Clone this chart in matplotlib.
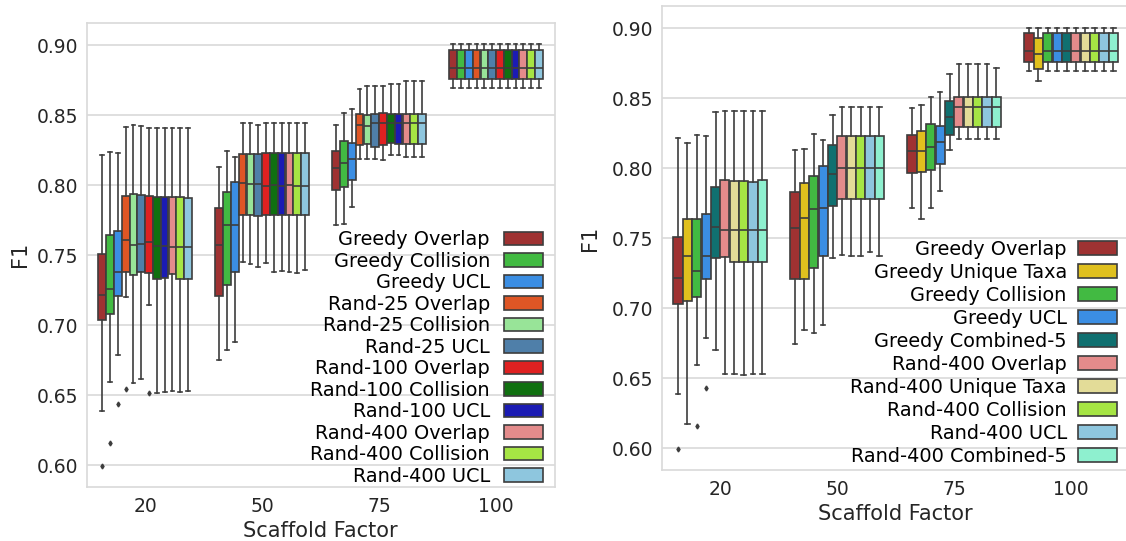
import matplotlib
matplotlib.use("Agg")
import matplotlib.pyplot as plt
from matplotlib.ticker import FormatStrFormatter

# Scaffold factor categories on the x axis
groups = ["20", "50", "75", "100"]

# ---------------- left panel: 12 methods ----------------
left_names = [
    "Greedy Overlap", "Greedy Collision", "Greedy UCL",
    "Rand-25 Overlap", "Rand-25 Collision", "Rand-25 UCL",
    "Rand-100 Overlap", "Rand-100 Collision", "Rand-100 UCL",
    "Rand-400 Overlap", "Rand-400 Collision", "Rand-400 UCL",
]
# box statistics: one row per method, one column per scaffold factor
left_whislo = [
    [0.6388, 0.6750, 0.7717, 0.8697],
    [0.6595, 0.6826, 0.7721, 0.8697],
    [0.6788, 0.6883, 0.7841, 0.8697],
    [0.7205, 0.7452, 0.8186, 0.8697],
    [0.6584, 0.7436, 0.8186, 0.8697],
    [0.6619, 0.7419, 0.8186, 0.8697],
    [0.7145, 0.7445, 0.8181, 0.8697],
    [0.6514, 0.7383, 0.8212, 0.8697],
    [0.6524, 0.7388, 0.8212, 0.8697],
    [0.6529, 0.7381, 0.8202, 0.8697],
    [0.6524, 0.7374, 0.8202, 0.8697],
    [0.6529, 0.7395, 0.8202, 0.8697],
]
left_q1 = [
    [0.7034, 0.7209, 0.7967, 0.8759],
    [0.7083, 0.7290, 0.7986, 0.8759],
    [0.7207, 0.7379, 0.8034, 0.8757],
    [0.7379, 0.7786, 0.8284, 0.8759],
    [0.7357, 0.7786, 0.8291, 0.8759],
    [0.7379, 0.7781, 0.8271, 0.8759],
    [0.7374, 0.7790, 0.8286, 0.8759],
    [0.7329, 0.7786, 0.8298, 0.8759],
    [0.7336, 0.7786, 0.8293, 0.8759],
    [0.7364, 0.7786, 0.8295, 0.8759],
    [0.7331, 0.7786, 0.8295, 0.8759],
    [0.7331, 0.7786, 0.8295, 0.8759],
]
left_med = [
    [0.7214, 0.7571, 0.8126, 0.8840],
    [0.7262, 0.7714, 0.8155, 0.8840],
    [0.7379, 0.7719, 0.8189, 0.8840],
    [0.7609, 0.8019, 0.8429, 0.8840],
    [0.7576, 0.8010, 0.8421, 0.8840],
    [0.7583, 0.8005, 0.8441, 0.8840],
    [0.7595, 0.7995, 0.8441, 0.8840],
    [0.7564, 0.8000, 0.8441, 0.8840],
    [0.7567, 0.7995, 0.8441, 0.8840],
    [0.7562, 0.8000, 0.8441, 0.8840],
    [0.7562, 0.7995, 0.8441, 0.8840],
    [0.7562, 0.7995, 0.8441, 0.8840],
]
left_q3 = [
    [0.7512, 0.7834, 0.8241, 0.8964],
    [0.7641, 0.7948, 0.8317, 0.8964],
    [0.7674, 0.8020, 0.8302, 0.8964],
    [0.7921, 0.8221, 0.8509, 0.8964],
    [0.7938, 0.8226, 0.8500, 0.8964],
    [0.7929, 0.8226, 0.8509, 0.8964],
    [0.7924, 0.8231, 0.8514, 0.8964],
    [0.7917, 0.8231, 0.8507, 0.8964],
    [0.7917, 0.8231, 0.8509, 0.8964],
    [0.7917, 0.8231, 0.8509, 0.8964],
    [0.7912, 0.8231, 0.8509, 0.8964],
    [0.7910, 0.8231, 0.8509, 0.8964],
]
left_whishi = [
    [0.8214, 0.8131, 0.8429, 0.9006],
    [0.8238, 0.8245, 0.8512, 0.9006],
    [0.8231, 0.8198, 0.8543, 0.9006],
    [0.8412, 0.8445, 0.8688, 0.9006],
    [0.8431, 0.8445, 0.8707, 0.9006],
    [0.8424, 0.8433, 0.8705, 0.9006],
    [0.8405, 0.8445, 0.8705, 0.9006],
    [0.8405, 0.8445, 0.8721, 0.9006],
    [0.8405, 0.8445, 0.8721, 0.9006],
    [0.8410, 0.8445, 0.8745, 0.9006],
    [0.8410, 0.8445, 0.8745, 0.9006],
    [0.8410, 0.8445, 0.8745, 0.9006],
]
# outliers only appear at scaffold factor 20
left_fliers_20 = [[0.5998], [0.6159], [0.6436], [0.6545], [], [],
                  [0.6519], [], [], [], [], []]

# ---------------- right panel: 10 methods ----------------
right_names = [
    "Greedy Overlap", "Greedy Unique Taxa", "Greedy Collision", "Greedy UCL",
    "Greedy Combined-5", "Rand-400 Overlap", "Rand-400 Unique Taxa",
    "Rand-400 Collision", "Rand-400 UCL", "Rand-400 Combined-5",
]
right_whislo = [
    [0.6388, 0.6748, 0.7714, 0.8698],
    [0.6171, 0.6843, 0.7636, 0.8621],
    [0.6595, 0.6824, 0.7719, 0.8698],
    [0.6788, 0.6881, 0.7838, 0.8698],
    [0.6700, 0.7362, 0.8131, 0.8698],
    [0.6531, 0.7379, 0.8207, 0.8698],
    [0.6531, 0.7374, 0.8207, 0.8698],
    [0.6524, 0.7374, 0.8207, 0.8698],
    [0.6531, 0.7402, 0.8207, 0.8698],
    [0.6531, 0.7374, 0.8207, 0.8698],
]
right_q1 = [
    [0.7034, 0.7207, 0.7964, 0.8759],
    [0.7050, 0.7212, 0.7974, 0.8709],
    [0.7083, 0.7288, 0.7986, 0.8759],
    [0.7209, 0.7376, 0.8031, 0.8759],
    [0.7362, 0.7731, 0.8241, 0.8759],
    [0.7364, 0.7783, 0.8295, 0.8759],
    [0.7333, 0.7783, 0.8295, 0.8759],
    [0.7333, 0.7783, 0.8295, 0.8759],
    [0.7333, 0.7783, 0.8295, 0.8759],
    [0.7333, 0.7783, 0.8295, 0.8759],
]
right_med = [
    [0.7214, 0.7571, 0.8124, 0.8838],
    [0.7374, 0.7645, 0.8124, 0.8820],
    [0.7264, 0.7712, 0.8155, 0.8838],
    [0.7376, 0.7716, 0.8191, 0.8838],
    [0.7581, 0.7962, 0.8367, 0.8838],
    [0.7559, 0.8000, 0.8438, 0.8838],
    [0.7559, 0.8000, 0.8438, 0.8838],
    [0.7559, 0.8000, 0.8438, 0.8838],
    [0.7559, 0.8000, 0.8438, 0.8838],
    [0.7559, 0.8000, 0.8438, 0.8838],
]
right_q3 = [
    [0.7512, 0.7834, 0.8241, 0.8964],
    [0.7638, 0.7898, 0.8264, 0.8929],
    [0.7638, 0.7945, 0.8317, 0.8964],
    [0.7674, 0.8017, 0.8305, 0.8964],
    [0.7869, 0.8167, 0.8479, 0.8964],
    [0.7914, 0.8233, 0.8509, 0.8964],
    [0.7907, 0.8233, 0.8509, 0.8964],
    [0.7907, 0.8233, 0.8509, 0.8964],
    [0.7905, 0.8233, 0.8509, 0.8964],
    [0.7917, 0.8233, 0.8509, 0.8964],
]
right_whishi = [
    [0.8214, 0.8131, 0.8429, 0.9005],
    [0.8179, 0.8136, 0.8452, 0.9005],
    [0.8236, 0.8243, 0.8512, 0.9005],
    [0.8229, 0.8200, 0.8543, 0.9005],
    [0.8405, 0.8381, 0.8671, 0.9005],
    [0.8409, 0.8441, 0.8745, 0.9005],
    [0.8409, 0.8441, 0.8745, 0.9005],
    [0.8409, 0.8441, 0.8745, 0.9005],
    [0.8409, 0.8441, 0.8745, 0.9005],
    [0.8409, 0.8441, 0.8719, 0.9005],
]
right_fliers_20 = [[0.5998], [], [0.6159], [0.6434], [], [], [], [], [], []]

# box colours per method
colors = {
    "Greedy Overlap": "#9f3232",
    "Greedy Unique Taxa": "#e0c01e",
    "Greedy Collision": "#42ba42",
    "Greedy UCL": "#3b8ee3",
    "Greedy Combined-5": "#107070",
    "Rand-25 Overlap": "#df5625",
    "Rand-25 Collision": "#98e498",
    "Rand-25 UCL": "#4f7fa9",
    "Rand-100 Overlap": "#df2121",
    "Rand-100 Collision": "#107010",
    "Rand-100 UCL": "#1b1bb3",
    "Rand-400 Overlap": "#e48b8b",
    "Rand-400 Unique Taxa": "#e3dc98",
    "Rand-400 Collision": "#a6e544",
    "Rand-400 UCL": "#8ec6de",
    "Rand-400 Combined-5": "#8ef0cf",
}

LINE = "#3d3d3d"
LW = 1.2
TEXT = "#262626"
GRID = "#d9d9d9"
W, H = 1126, 541


def draw_panel(ax, names, lo, q1, med, q3, hi, fliers20):
    n = len(names)
    w = 0.8 / n
    handles = []
    for j, name in enumerate(names):
        stats = []
        for g in range(len(groups)):
            stats.append(dict(whislo=lo[j][g], q1=q1[j][g], med=med[j][g],
                              q3=q3[j][g], whishi=hi[j][g],
                              fliers=fliers20[j] if g == 0 else []))
        pos = [g - 0.4 + w * (j + 0.5) for g in range(len(groups))]
        bp = ax.bxp(stats, positions=pos, widths=w * 0.98, patch_artist=True,
                    manage_ticks=False,
                    boxprops=dict(facecolor=colors[name], edgecolor=LINE, linewidth=LW),
                    medianprops=dict(color=LINE, linewidth=LW),
                    whiskerprops=dict(color=LINE, linewidth=LW),
                    capprops=dict(color=LINE, linewidth=LW),
                    flierprops=dict(marker="d", markersize=2.5,
                                    markerfacecolor=LINE, markeredgecolor=LINE))
        handles.append(bp["boxes"][0])

    ax.set_xlim(-0.5, len(groups) - 0.5)
    ax.set_ylim(0.5845, 0.916)
    ax.set_xticks(range(len(groups)))
    ax.set_xticklabels(groups)
    ax.set_yticks([0.60, 0.65, 0.70, 0.75, 0.80, 0.85, 0.90])
    ax.yaxis.set_major_formatter(FormatStrFormatter("%.2f"))
    ax.grid(axis="y", color=GRID, linewidth=1.2)
    ax.set_axisbelow(True)
    for s in ax.spines.values():
        s.set_color(GRID)
        s.set_linewidth(1.2)
    ax.tick_params(length=0, labelsize=13.5, labelcolor=TEXT)
    ax.tick_params(axis="x", pad=7)
    ax.tick_params(axis="y", pad=6)
    ax.set_xlabel("Scaffold Factor", fontsize=15, color=TEXT, labelpad=4)
    ax.set_ylabel("F1", fontsize=15, color=TEXT)
    return handles


fig = plt.figure(figsize=(W / 100, H / 100), dpi=100)
ax1 = fig.add_axes([86.7 / W, (H - 487) / H, (554.5 - 86.7) / W, (487 - 22.7) / H])
ax2 = fig.add_axes([661.7 / W, (H - 470) / H, 468 / W, (470 - 6) / H])

h1 = draw_panel(ax1, left_names, left_whislo, left_q1, left_med, left_q3,
                left_whishi, left_fliers_20)
h2 = draw_panel(ax2, right_names, right_whislo, right_q1, right_med, right_q3,
                right_whishi, right_fliers_20)

ax1.yaxis.set_label_coords(-0.121, 0.5)
ax2.yaxis.set_label_coords(-0.132, 0.5)

legend_kw = dict(loc="lower right", bbox_transform=fig.transFigure, frameon=False,
                 markerfirst=False, fontsize=13.9, handlelength=2.0,
                 handleheight=0.7, borderpad=0, borderaxespad=0)
ax1.legend(h1, left_names, bbox_to_anchor=(543 / W, (H - 486) / H),
           handletextpad=0.75, labelspacing=0.13, **legend_kw)
ax2.legend(h2, right_names, bbox_to_anchor=(1117 / W, (H - 466) / H),
           handletextpad=0.6, labelspacing=0.21, **legend_kw)

fig.savefig("out.png", dpi=100)
